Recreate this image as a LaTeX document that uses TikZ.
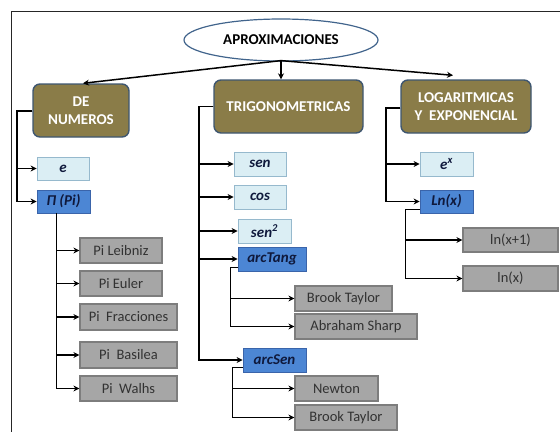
\documentclass[tikz,border=0pt]{standalone}
\usepackage{fontspec}
\setmainfont{Carlito}
\usetikzlibrary{arrows.meta,calc,shapes.geometric}
\definecolor{olive}{RGB}{138,124,72}
\definecolor{olivebd}{RGB}{62,86,112}
\definecolor{lblue}{RGB}{219,238,244}
\definecolor{lbluebd}{RGB}{150,185,205}
\definecolor{mblue}{RGB}{76,134,212}
\definecolor{mbluebd}{RGB}{58,100,170}
\definecolor{gbox}{RGB}{166,166,166}
\definecolor{gboxbd}{RGB}{125,125,125}
\definecolor{gtext}{RGB}{50,50,50}
\definecolor{navy}{RGB}{15,25,60}
\definecolor{ellbd}{RGB}{65,100,140}
\tikzset{
  hdr/.style={draw=olivebd, line width=1.4pt, fill=olive, rounded corners=7pt, text=white,
    font=\fontsize{15}{17.5}\selectfont\bfseries, align=center, inner sep=0pt},
  lb/.style={draw=lbluebd, line width=0.8pt, fill=lblue, text=navy,
    font=\fontsize{15}{17}\selectfont\bfseries\itshape, inner sep=0pt},
  mb/.style={draw=mbluebd, line width=0.8pt, fill=mblue, text=navy,
    font=\fontsize{15}{17}\selectfont\bfseries\itshape, inner sep=0pt},
  gb/.style={draw=gboxbd, line width=1.2pt, fill=gbox, text=gtext,
    font=\fontsize{14.5}{17}\selectfont, inner sep=0pt},
  arr/.style={draw=black, line width=1.5pt, -{Stealth[length=6pt,width=6pt]}},
}
\begin{document}
\begin{tikzpicture}[x=1pt,y=-1pt]
\useasboundingbox (0,0) rectangle (560,432);
\draw[line width=1pt, draw=black!85] (560,11) -- (11,11) -- (11,432);
% root
\node[ellipse, draw=ellbd, line width=1.2pt, fill=white, minimum width=194pt, minimum height=42pt,
  inner sep=0pt, font=\fontsize{15}{17}\selectfont\bfseries, text=black] (ap) at (281,40) {APROXIMACIONES};
% headers
\node[hdr, minimum width=96pt, minimum height=53pt] (den) at (81,110.5) {DE\\NUMEROS};
\node[hdr, minimum width=149pt, minimum height=53pt] (trig) at (288.5,106.5) {TRIGONOMETRICAS};
\node[hdr, minimum width=130pt, minimum height=53pt] (log) at (466,106.5) {LOGARITMICAS\\Y\ \ EXPONENCIAL};
% numeros
\node[lb, minimum width=52pt, minimum height=23pt] (e) at (63,168.5) {e};
\node[mb, minimum width=53pt, minimum height=23pt] (pi) at (63.5,201.5) {Π (Pi)};
\node[gb, minimum width=82pt, minimum height=25pt] (pl) at (121,250.5) {Pi Leibniz};
\node[gb, minimum width=82pt, minimum height=25pt] (pe) at (121,283.5) {Pi Euler};
\node[gb, minimum width=97pt, minimum height=26pt] (pf) at (128.5,317) {Pi\ \ Fracciones};
\node[gb, minimum width=97pt, minimum height=26pt] (pb) at (128.5,355) {Pi\ \ Basilea};
\node[gb, minimum width=97pt, minimum height=25pt] (pw) at (128.5,388.5) {Pi\ \ Walhs};
% trig
\node[lb, minimum width=52pt, minimum height=24pt] (sen) at (260,164) {sen};
\node[lb, minimum width=52pt, minimum height=24pt] (cos) at (260,197) {cos};
\node[lb, minimum width=53pt, minimum height=24pt] (sen2) at (264.5,231) {sen\textsuperscript{2}};
\node[mb, minimum width=68pt, minimum height=24pt] (at) at (272,259) {arcTang};
\node[mb, minimum width=63pt, minimum height=24pt] (as) at (274.5,360) {arcSen};
\node[gb, minimum width=97pt, minimum height=25pt] (bt1) at (343.5,298.5) {Brook Taylor};
\node[gb, minimum width=122pt, minimum height=25pt] (ash) at (356,326.5) {Abraham Sharp};
\node[gb, minimum width=83pt, minimum height=25pt] (nw) at (336.5,388.5) {Newton};
\node[gb, minimum width=102pt, minimum height=25pt] (bt2) at (346,417.5) {Brook Taylor};
% log
\node[lb, minimum width=53pt, minimum height=24pt] (ex) at (446.5,164) {e\textsuperscript{x}};
\node[mb, minimum width=53pt, minimum height=23pt] (ln) at (446.5,201.5) {Ln(x)};
\node[gb, minimum width=95pt, minimum height=24pt] (ln1) at (510.5,240) {ln(x+1)};
\node[gb, minimum width=95pt, minimum height=25pt] (ln2) at (510.5,278.5) {ln(x)};
% root arrows
\draw[arr] ($(ap.south)+(0,-1)$) -- ($(den.north)+(2,0)$);
\draw[arr] ($(ap.south)+(0,-1)$) -- (ap.south |- trig.north);
\draw[arr] ($(ap.south)+(0,-1)$) -- ($(log.north)+(-13,-4)$);
% numeros branches
\coordinate (jden) at (17,111);
\draw[arr] (den.west |- jden) -- (jden) |- (e.west);
\draw[arr] (den.west |- jden) -- (jden) |- (pi.west);
\coordinate (jpi) at ($(pi.south west)+(20,0)$);
\foreach \t in {pl,pe,pf,pb,pw}{\draw[arr] (jpi) |- (\t.west);}
% trig branches
\coordinate (jtr) at (199,106.5);
\foreach \t in {sen,cos,sen2,at,as}{\draw[arr] (trig.west) -- (jtr) |- (\t.west);}
\coordinate (sat) at ($(at.south west)+(0,-4)$);
\coordinate (jat) at ($(sat)+(-7,0)$);
\foreach \t in {bt1,ash}{\draw[arr] (sat) -- (jat) |- (\t.west);}
\coordinate (sas) at ($(as.south west)+(0,-5)$);
\coordinate (jas) at ($(sas)+(-10,0)$);
\foreach \t in {nw,bt2}{\draw[arr] (sas) -- (jas) |- (\t.west);}
% log branches
\coordinate (jlog) at (386,108);
\foreach \t in {ex,ln}{\draw[arr] (log.west |- jlog) -- (jlog) |- (\t.west);}
\coordinate (sln) at ($(ln.south west)+(0,-4)$);
\coordinate (jln) at ($(sln)+(-14,0)$);
\foreach \t in {ln1,ln2}{\draw[arr] (sln) -- (jln) |- (\t.west);}
\end{tikzpicture}
\end{document}
